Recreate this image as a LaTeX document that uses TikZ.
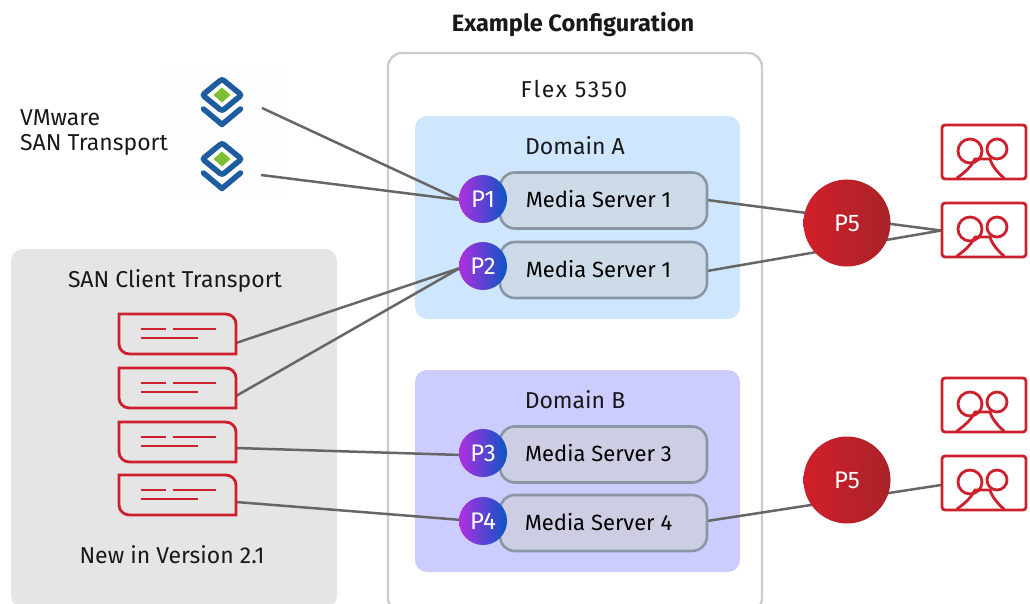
\documentclass[tikz,border=0pt]{standalone}
\usepackage{fontspec}
\setmainfont{Fira Sans}
\newfontfamily\spaced[LetterSpace=7.5]{Fira Sans}
\pgfdeclarelayer{bg}\pgfdeclarelayer{mid}
\pgfsetlayers{bg,mid,main}
\definecolor{cred}{HTML}{D11F2A}
\definecolor{cdred}{HTML}{A82228}
\definecolor{cstroke}{HTML}{CC202C}
\definecolor{cline}{HTML}{666666}
\definecolor{cblue}{HTML}{1D5C9E}
\definecolor{cgreen}{HTML}{7DBE32}
\definecolor{domA}{HTML}{CFE6FF}
\definecolor{domB}{HTML}{CCCCFF}
\definecolor{msA}{HTML}{CDDBE8}
\definecolor{msB}{HTML}{CDCDE4}
\definecolor{msedge}{HTML}{8A96A3}
\definecolor{pleft}{HTML}{B02FE0}
\definecolor{pright}{HTML}{0B55C4}
\newcommand{\mstext}[1]{\hspace*{-10pt}\raisebox{3pt}{#1}}
\tikzset{
 lbl/.style={inner sep=0pt,font=\fontsize{23}{26}\selectfont,text=black!90},
 link/.style={draw=cline,line width=2.5pt},
 panel/.style={rounded corners=12pt},
 msbox/.style={draw=msedge,fill=#1,line width=2.6pt,rounded corners=15pt,minimum width=207pt,minimum height=56pt,inner sep=0pt,font=\fontsize{22}{25}\selectfont,text=black},
 pcirc/.style={circle,left color=pleft,right color=pright,minimum size=48pt,inner sep=0pt,text=white,font=\fontsize{24}{26}\selectfont},
 pfive/.style={circle,left color=cred,right color=cdred,minimum size=87pt,inner sep=0pt,text=white,font=\fontsize{24}{26}\selectfont},
 redstroke/.style={draw=cstroke,line width=2.8pt},
 stackicon/.pic={
  \draw[cblue,line width=5.5pt,rounded corners=2.5pt,fill=white] (0,-16)--(19.5,0)--(0,16)--(-19.5,0)--cycle;
  \fill[cgreen] (0,-7.5)--(8.5,0)--(0,7.5)--(-8.5,0)--cycle;
  \draw[cblue,line width=5.5pt,line join=round,line cap=round] (-18.5,14)--(0,29.5)--(18.5,14);
 },
 campic/.pic={
  \draw[redstroke,rounded corners=3pt] (-42,-27) rectangle (42,27);
  \draw[redstroke] (-14,-1) circle (12);
  \draw[redstroke] (13,-3) circle (10);
  \draw[redstroke,line cap=round] (-27,26) .. controls (-17,19) and (-12,13) .. (-9,7) -- (6,7) .. controls (8,14) and (14,21) .. (20,26);
 },
 docpic/.pic={
  \draw[redstroke,line join=miter] (-58.5,-20) -- (48,-20) .. controls (54,-20) and (58.5,-15.5) .. (58.5,-10) -- (58.5,20) -- (-48,20) .. controls (-54,20) and (-58.5,15.5) .. (-58.5,10) -- cycle;
  \draw[redstroke] (-37,-5)--(-12,-5) (-5,-5)--(38,-5) (-37,4)--(20,4);
 }
}
\begin{document}
\begin{tikzpicture}[x=1pt,y=-1pt]
\useasboundingbox (0,0) rectangle (1030,604);
\clip (0,0) rectangle (1030,604);
\path (222,95) coordinate (vm1) (222,159) coordinate (vm2);
\coordinate (vm1out) at (262,108);
\coordinate (vm2out) at (261,175);
\coordinate (p1in) at (460,200);
\coordinate (p2in) at (460,268);
\coordinate (p3in) at (462,455);
\coordinate (p4in) at (462,520);
\coordinate (d1out) at (236,343);
\coordinate (d2out) at (236,396);
\coordinate (d3out) at (236,448);
\coordinate (d4out) at (236,502);
\coordinate (cam2in) at (941,230.5);
\coordinate (cam4in) at (941,485);
\coordinate (ms1out) at (707,200);
\coordinate (ms2out) at (707,271);
\coordinate (ms4out) at (707,521);
\begin{pgfonlayer}{bg}
 \fill[black!0.5] (162,65) rectangle (285,200);
 \fill[black!10,panel] (11,249) rectangle (337,608);
 \draw[black!20,line width=2.4pt,rounded corners=14pt] (388,53) rectangle (762,612);
 \fill[panel,domA] (415,116) rectangle (740,319);
 \fill[panel,domB] (415,370) rectangle (740,572);
\end{pgfonlayer}
\node[lbl,font=\bfseries\fontsize{23.6}{26}\selectfont] (title) at (573,25) {Example Configuration};
\node[lbl,font=\spaced\fontsize{23}{26}\selectfont] (flex) at (574,89) {Flex 5350};
\node[lbl] (doma) at (575,146) {Domain A};
\node[lbl] (domb) at (575,400) {Domain B};
\node[lbl,anchor=west] (vmw) at (20,118) {VMware};
\node[lbl,anchor=west] (sant) at (20,145) {SAN Transport};
\node[lbl] (sanc) at (175,281) {SAN Client Transport};
\node[lbl] (newv) at (172,555) {New in Version 2.1};
\node[msbox=msA] (ms1) at (603.5,200.5) {\mstext{Media Server 1}};
\node[msbox=msA] (ms2) at (603.5,270) {\mstext{Media Server 1}};
\node[msbox=msB] (ms3) at (603.5,454.5) {\mstext{Media Server 3}};
\node[msbox=msB] (ms4) at (603.5,523) {\mstext{Media Server 4}};
\node[pcirc] (p1) at (483,199) {P1};
\node[pcirc] (p2) at (483,266) {P2};
\node[pcirc] (p3) at (483,453) {P3};
\node[pcirc] (p4) at (483,521) {P4};
\node[pfive] (p5a) at (847,223) {P5};
\node[pfive] (p5b) at (847,480) {P5};
\pic at (vm1) {stackicon};
\pic at (vm2) {stackicon};
\pic at (177.5,334) {docpic};
\pic at (177.5,388) {docpic};
\pic at (177.5,442) {docpic};
\pic at (177.5,495) {docpic};
\pic at (984,152) {campic};
\pic at (984,230) {campic};
\pic at (984,405) {campic};
\pic at (984,483) {campic};
\begin{pgfonlayer}{mid}
 \draw[link] (vm1out) -- (p1in);
 \draw[link] (vm2out) -- (p1in);
 \draw[link] (d1out) -- (p2in);
 \draw[link] (d2out) -- (p2in);
 \draw[link] (d3out) -- (p3in);
 \draw[link] (d4out) -- (p4in);
 \draw[link] (ms1out) -- (cam2in);
 \draw[link] (ms2out) -- (cam2in);
 \draw[link] (ms4out) -- (cam4in);
\end{pgfonlayer}
\end{tikzpicture}
\end{document}
